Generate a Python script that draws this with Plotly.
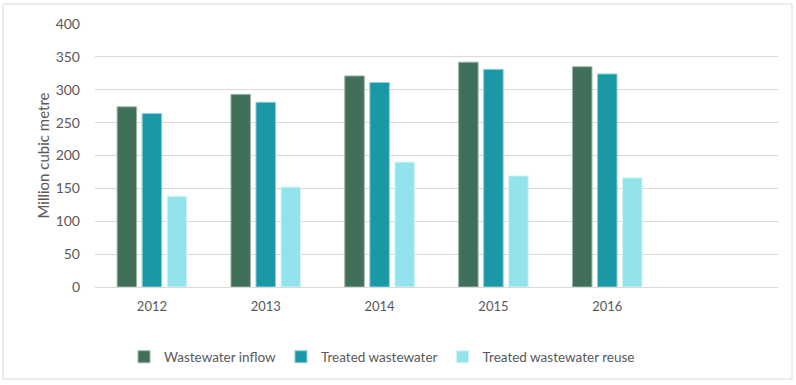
import plotly.graph_objects as go

years = ["2012", "2013", "2014", "2015", "2016"]
inflow = [274, 293, 321, 342, 335]
treated = [264, 281, 311, 331, 324]
reuse = [138, 152, 190, 169, 166]
y_ticks = [0, 50, 100, 150, 200, 250, 300, 350, 400]

series = [
    ("Wastewater inflow", inflow, "#40705A", "#9bb5a8"),
    ("Treated wastewater", treated, "#1B98A6", "#8fd0d8"),
    ("Treated wastewater reuse", reuse, "#93E3EC", "#d4f5f8"),
]

fig = go.Figure()
for name, vals, col, edge in series:
    fig.add_trace(go.Bar(
        x=years, y=vals, name=name,
        marker=dict(color=col, line=dict(color=edge, width=1)),
    ))

W, H = 796, 385
L, R, T, B = 95, 18, 24, 98
pw, ph = W - L - R, H - T - B

def px(x):
    return (x - L) / pw

def py(y):
    return (H - B - y) / ph

fig.update_layout(
    width=W, height=H,
    margin=dict(l=L, r=R, t=T, b=B, autoexpand=False),
    paper_bgcolor="white", plot_bgcolor="white",
    barmode="group", bargap=0.34, bargroupgap=0.22,
    font=dict(family="Lato, Carlito, sans-serif", size=13, color="#595959"),
    xaxis=dict(
        type="category", range=[-0.5, 5.5], showgrid=False,
        showline=True, linecolor="#d9d9d9", linewidth=1,
        ticks="", tickfont=dict(size=13, color="#595959"), ticklabelstandoff=7,
    ),
    yaxis=dict(
        range=[0, 400], tickvals=y_ticks, showgrid=True, gridcolor="#d9d9d9",
        gridwidth=1, zeroline=False, showline=False, ticks="",
        tickfont=dict(size=14, color="#595959"), ticklabelstandoff=14,
        title=dict(text="Million cubic metre", font=dict(size=15, color="#595959"), standoff=2),
    ),
    legend=dict(
        orientation="h", x=px(382), xanchor="center", y=py(357), yanchor="middle",
        font=dict(size=13.5, color="#595959"), traceorder="normal",
        itemwidth=30, bgcolor="rgba(0,0,0,0)",
    ),
    showlegend=True,
    shapes=[dict(
        type="rect", xref="paper", yref="paper",
        x0=px(3), x1=px(792), y0=py(379), y1=py(4),
        line=dict(color="#d9d9d9", width=1), fillcolor="rgba(0,0,0,0)", layer="below",
    )],
)

fig.write_html("out.html", config={"displayModeBar": False},
               post_script="document.body.style.margin='0';")
